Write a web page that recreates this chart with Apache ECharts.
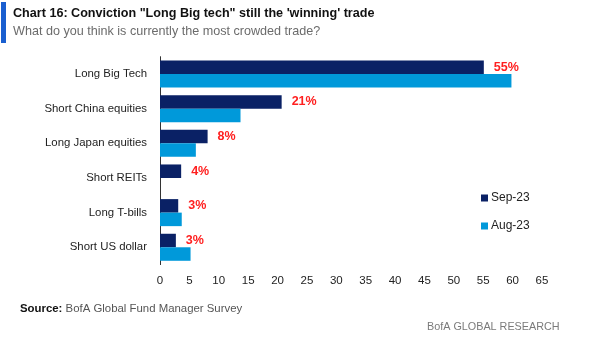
<!DOCTYPE html>
<html>
<head>
<meta charset="utf-8">
<script src="https://cdn.jsdelivr.net/npm/echarts@6/dist/echarts.min.js"></script>
<style>
html,body{margin:0;padding:0;background:#fff;}
#chart{width:600px;height:356px;}
</style>
</head>
<body>
<div id="chart"></div>
<script>
var categories = ['Long Big Tech', 'Short China equities', 'Long Japan equities', 'Short REITs', 'Long T-bills', 'Short US dollar'];
var sep23 = [55.1, 20.7, 8.1, 3.6, 3.1, 2.7];
var aug23 = [59.8, 13.7, 6.1, 0, 3.7, 5.2];
var sepLabels = ['55%', '21%', '8%', '4%', '3%', '3%'];
var xTicks = [0, 5, 10, 15, 20, 25, 30, 35, 40, 45, 50, 55, 60, 65];
var seriesNames = ['Sep-23', 'Aug-23'];

var FONT = '"Liberation Sans", Arial, sans-serif';
var chart = echarts.init(document.getElementById('chart'), null, {renderer: 'canvas'});
chart.setOption({
  backgroundColor: '#ffffff',
  animation: false,
  graphic: [
    {type: 'rect', shape: {x: 1, y: 2, width: 5, height: 41}, style: {fill: '#1a5fd0'}}
  ],
  title: [
    {
      text: 'Chart 16: Conviction "Long Big tech" still the \'winning\' trade',
      left: 13, top: 7, padding: 0,
      textStyle: {fontFamily: FONT, fontWeight: 'bold', fontSize: 12.6, color: '#111'}
    },
    {
      text: 'What do you think is currently the most crowded trade?',
      left: 13, top: 25, padding: 0,
      textStyle: {fontFamily: FONT, fontWeight: 'normal', fontSize: 12.6, color: '#6b6b6b'}
    },
    {
      text: '{b|Source:}{n| BofA Global Fund Manager Survey}',
      left: 20, top: 303, padding: 0,
      textStyle: {
        rich: {
          b: {fontFamily: FONT, fontWeight: 'bold', fontSize: 11.4, color: '#111'},
          n: {fontFamily: FONT, fontWeight: 'normal', fontSize: 11.4, color: '#555'}
        }
      }
    },
    {
      text: 'BofA GLOBAL RESEARCH',
      left: 427, top: 322, padding: 0,
      textStyle: {fontFamily: FONT, fontWeight: 'normal', fontSize: 10.8, color: '#7a7a7a'}
    }
  ],
  legend: {
    data: seriesNames,
    orient: 'vertical',
    left: 481, top: 192, padding: 0,
    itemWidth: 7, itemHeight: 7, itemGap: 16,
    icon: 'rect',
    textStyle: {fontFamily: FONT, fontSize: 12, color: '#222', padding: [0, 0, 0, -2]}
  },
  grid: {left: 160, right: 58, top: 56.7, bottom: 91.4, containLabel: false},
  xAxis: {
    type: 'value', min: 0, max: 65, interval: 5,
    axisLine: {show: false}, axisTick: {show: false}, splitLine: {show: false},
    axisLabel: {
      fontFamily: FONT, fontSize: 11.5, color: '#222', margin: 10,
      formatter: function (v) { return xTicks.indexOf(v) >= 0 ? String(v) : ''; }
    }
  },
  yAxis: {
    type: 'category', data: categories, inverse: true,
    axisLine: {show: true, lineStyle: {color: '#333', width: 1}},
    axisTick: {show: false},
    axisLabel: {fontFamily: FONT, fontSize: 11.4, color: '#222', margin: 13}
  },
  series: [
    {
      name: seriesNames[0], type: 'bar', data: sep23,
      barGap: '0%', barCategoryGap: '22%',
      itemStyle: {color: '#0a2165'},
      label: {
        show: true, position: 'right', distance: 10,
        formatter: function (p) { return sepLabels[p.dataIndex]; },
        fontFamily: FONT, fontWeight: 'bold', fontSize: 12.5, color: '#ff1f1f'
      }
    },
    {
      name: seriesNames[1], type: 'bar', data: aug23,
      barGap: '0%', barCategoryGap: '22%',
      itemStyle: {color: '#0099da'}
    }
  ]
});
</script>
</body>
</html>
